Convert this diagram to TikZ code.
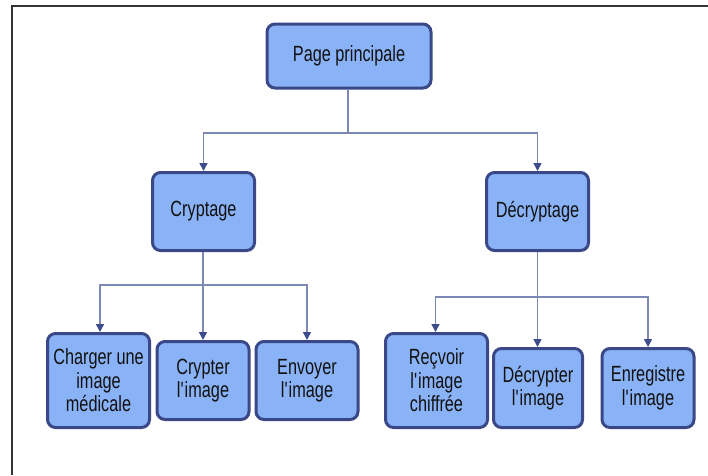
\documentclass[tikz,border=0pt]{standalone}
\usepackage{fontspec}
\setmainfont{Liberation Sans}[FakeStretch=0.74]
\usetikzlibrary{arrows.meta}
\newcommand{\apos}{\textquotesingle}
\definecolor{boxfill}{HTML}{8AB2F6}
\definecolor{boxline}{HTML}{3A4888}
\definecolor{linkcol}{HTML}{7D88B4}
\definecolor{tipcol}{HTML}{3D4C8C}
\definecolor{txtcol}{HTML}{111111}
\definecolor{framecol}{HTML}{333333}
\tikzset{
  box/.style={draw=boxline, fill=boxfill, line width=3pt, rounded corners=8pt,
    align=center, text=txtcol, inner sep=0pt,
    font=\fontsize{22}{23.5}\selectfont},
  link/.style={draw=linkcol, line width=1.5pt},
  linkarr/.style={link, -{Triangle[width=8pt,length=8pt,color=tipcol]}},
}
\begin{document}
\begin{tikzpicture}[x=1pt,y=-1pt]
\useasboundingbox (0,0) rectangle (708,475);
% page frame
\draw[framecol, line width=2pt] (12,475) -- (12,6) -- (708,6);

% top level
\node[box, minimum width=164pt, minimum height=64pt] (top) at (349,56) {Page principale};

% second level
\node[box, minimum width=102pt, minimum height=78pt] (cryp) at (203.5,211.5) {Cryptage};
\node[box, minimum width=102pt, minimum height=78pt] (decr) at (537.5,211.5) {Décryptage};

% leaves under Cryptage
\node[box, minimum width=102pt, minimum height=94pt] (charger) at (98.5,380.5) {Charger une\\image\\médicale};
\node[box, minimum width=92pt, minimum height=78pt] (crypter) at (203,380.5) {Crypter\\l\apos image};
\node[box, minimum width=102pt, minimum height=78pt] (envoyer) at (307,380.5) {Envoyer\\l\apos image};

% leaves under Décryptage
\node[box, minimum width=102pt, minimum height=94pt] (recv) at (436.5,380.5) {Reçvoir\\l\apos image\\chiffrée};
\node[box, minimum width=89pt, minimum height=79pt] (dcrypt) at (538,388) {Décrypter\\l\apos image};
\node[box, minimum width=92pt, minimum height=79pt] (save) at (648,388) {Enregistre\\l\apos image};

% junction points
\coordinate (j0) at (348,133);
\coordinate (j1) at (203,285);
\coordinate (j2) at (537.5,297);

% top -> second level
\draw[link] (top.south -| j0) -- (j0);
\draw[linkarr] (j0) -| (cryp.north);
\draw[linkarr] (j0) -| (decr.north);

% Cryptage -> leaves
\draw[link] (cryp.south -| j1) -- (j1);
\draw[linkarr] (j1) -| ([xshift=1.5pt]charger.north);
\draw[linkarr] (j1) -- (crypter.north);
\draw[linkarr] (j1) -| (envoyer.north);

% Décryptage -> leaves
\draw[link] (decr.south) -- (j2);
\draw[linkarr] (j2) -| ([xshift=-1pt]recv.north);
\draw[linkarr] (j2) -- (j2 |- dcrypt.north);
\draw[linkarr] (j2) -| (save.north);
\end{tikzpicture}
\end{document}
